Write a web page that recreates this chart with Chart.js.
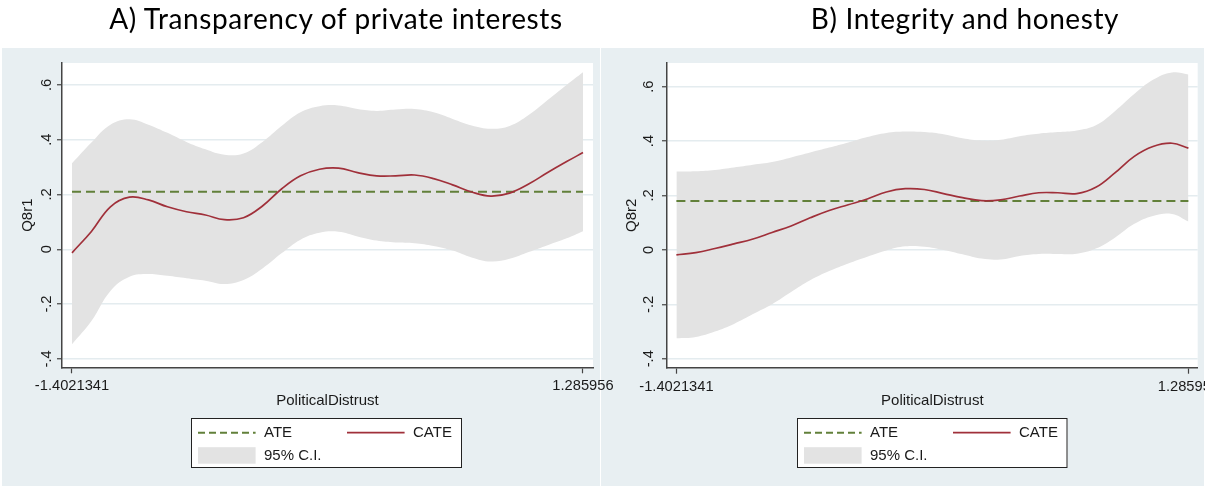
<!DOCTYPE html>
<html><head><meta charset="utf-8">
<script src="https://cdn.jsdelivr.net/npm/chart.js@4.4.1/dist/chart.umd.min.js"></script>
<style>
html,body{margin:0;padding:0;background:#fff;}
#wrap{position:relative;width:1205px;height:486px;overflow:hidden;background:#fff;}
.ttl{position:absolute;top:1px;font-family:Lato,'Open Sans',sans-serif;font-size:28px;line-height:34px;letter-spacing:0.6px;color:#000;white-space:nowrap;text-align:center;width:600px;}
canvas{position:absolute;top:0;}
</style></head><body>
<div id="wrap">
<canvas id="cB" width="605" height="486" style="left:600px;z-index:1"></canvas>
<canvas id="cA" width="620" height="486" style="left:0;z-index:2"></canvas>
<div class="ttl" id="tA" style="left:36px;z-index:3"></div>
<div class="ttl" id="tB" style="left:665px;z-index:3"></div>
</div>
<script>
// ---------- data ----------
const xValues = [-1.4021341,-1.3,-1.2,-1.1,-1.0,-0.9,-0.8,-0.7,-0.6,-0.5,-0.4,-0.3,-0.2,-0.1,0.0,0.1,0.2,0.3,0.4,0.5,0.6,0.7,0.8,0.9,1.0,1.1,1.2,1.285956];
const xTickValues = [-1.4021341, 1.285956];
const xTickLabels = ['-1.4021341', '1.285956'];
const yTickValues = [-0.4, -0.2, 0, 0.2, 0.4, 0.6];
const yTickLabels = ['-.4', '-.2', '0', '.2', '.4', '.6'];
const legendLabels = ['ATE', 'CATE', '95% C.I.'];
const panelTitles = ['A) Transparency of private interests', 'B) Integrity and honesty'];
const yAxisTitles = ['Q8r1', 'Q8r2'];
const xAxisTitle = 'PoliticalDistrust';

const cateA  = [-0.013,0.065,0.155,0.190,0.180,0.155,0.137,0.125,0.108,0.115,0.158,0.220,0.268,0.292,0.296,0.280,0.268,0.268,0.271,0.258,0.235,0.209,0.194,0.205,0.238,0.280,0.320,0.353];
const upperA = [0.314,0.390,0.455,0.475,0.455,0.425,0.392,0.365,0.345,0.350,0.392,0.450,0.500,0.522,0.525,0.512,0.505,0.510,0.512,0.500,0.476,0.452,0.440,0.450,0.490,0.545,0.600,0.646];
const lowerA = [-0.347,-0.262,-0.152,-0.100,-0.090,-0.097,-0.106,-0.115,-0.127,-0.112,-0.070,-0.015,0.035,0.060,0.064,0.047,0.032,0.025,0.022,0.012,-0.005,-0.030,-0.045,-0.035,-0.010,0.015,0.040,0.066];
const ateA = 0.21;

const cateB  = [-0.018,-0.010,0.005,0.022,0.040,0.064,0.088,0.118,0.145,0.166,0.187,0.213,0.225,0.222,0.207,0.192,0.181,0.184,0.198,0.210,0.210,0.207,0.230,0.283,0.343,0.380,0.392,0.374];
const upperB = [0.288,0.289,0.294,0.303,0.313,0.323,0.340,0.358,0.376,0.395,0.415,0.430,0.435,0.433,0.425,0.410,0.402,0.405,0.418,0.427,0.433,0.439,0.458,0.510,0.572,0.625,0.652,0.645];
const lowerB = [-0.325,-0.320,-0.300,-0.272,-0.236,-0.200,-0.155,-0.112,-0.078,-0.050,-0.025,-0.002,0.013,0.012,0.000,-0.016,-0.032,-0.035,-0.022,-0.015,-0.015,-0.014,0.005,0.045,0.095,0.125,0.132,0.104];
const ateB = 0.18;

// ---------- styles ----------
const FONT = "'Liberation Sans', Arial, sans-serif";
const TXT = '#1a1a1a';
const AXIS = '#444444';
const PANEL_BG = '#e8eff2';
const GRID = '#e4ecef';
const CI_FILL = '#e3e3e3';
const CATE_COL = '#a0303a';
const ATE_COL = '#62803a';

Chart.defaults.font.family = FONT;
Chart.defaults.color = TXT;

document.getElementById('tA').textContent = panelTitles[0];
document.getElementById('tB').textContent = panelTitles[1];

const pts = (ys) => xValues.map((x, i) => ({x: x, y: ys[i]}));

function makePanel(id, k, cate, upper, lower, ate, spec) {
  const bgPlugin = {
    id: 'panelBg' + k,
    beforeDraw(chart) {
      const ctx = chart.ctx, r = spec.panelRect, a = chart.chartArea;
      ctx.save();
      ctx.fillStyle = PANEL_BG;
      ctx.fillRect(r.x, r.y, r.w, r.h);
      ctx.fillStyle = '#ffffff';
      ctx.fillRect(a.left, a.top, a.right - a.left, a.bottom - a.top);
      ctx.restore();
    }
  };
  const legendPlugin = {
    id: 'stataLegend' + k,
    afterDraw(chart) {
      const ctx = chart.ctx, b = spec.legendBox;
      ctx.save();
      ctx.fillStyle = '#ffffff';
      ctx.fillRect(b.x, b.y, b.w, b.h);
      ctx.strokeStyle = '#222222';
      ctx.lineWidth = 1;
      ctx.strokeRect(b.x + 0.5, b.y + 0.5, b.w - 1, b.h - 1);
      legendLabels.forEach((lab, i) => {
        const ds = chart.data.datasets.find(d => d.label === lab);
        const col = i % 2, row = Math.floor(i / 2);
        const sx = b.x + [7, 156][col];
        const sy = b.y + [14.7, 37.7][row];
        if (ds.fill) {
          ctx.fillStyle = ds.backgroundColor;
          ctx.fillRect(sx, sy - 8.5, 57.6, 16.5);
        } else {
          ctx.strokeStyle = ds.borderColor;
          ctx.lineWidth = ds.borderWidth;
          ctx.setLineDash(ds.borderDash ? [7, 4] : []);
          ctx.beginPath();
          ctx.moveTo(sx, sy); ctx.lineTo(sx + 57.6, sy);
          ctx.stroke();
          ctx.setLineDash([]);
        }
        ctx.fillStyle = TXT;
        ctx.font = '15px ' + FONT;
        ctx.textBaseline = 'middle';
        ctx.textAlign = 'left';
        ctx.fillText(lab, sx + 66, sy + 0.5);
      });
      ctx.restore();
    }
  };

  return new Chart(document.getElementById(id), {
    type: 'line',
    data: {
      datasets: [
        {label: 'CATE', data: pts(cate), borderColor: CATE_COL, borderWidth: 1.7, pointRadius: 0, tension: 0.4, fill: false},
        {label: 'ATE', data: [{x: xValues[0], y: ate}, {x: xValues[xValues.length - 1], y: ate}],
         borderColor: ATE_COL, borderWidth: 2, borderDash: [9, 5], pointRadius: 0, fill: false},
        {label: '', data: pts(upper), borderWidth: 0, borderColor: 'rgba(0,0,0,0)', pointRadius: 0, tension: 0.4, fill: false},
        {label: '95% C.I.', data: pts(lower), borderWidth: 0, borderColor: 'rgba(0,0,0,0)', backgroundColor: CI_FILL,
         pointRadius: 0, tension: 0.4, fill: '-1'}
      ]
    },
    options: {
      responsive: false,
      animation: false,
      devicePixelRatio: 1,
      layout: {padding: spec.padding},
      plugins: {legend: {display: false}, tooltip: {enabled: false}, title: {display: false}},
      scales: {
        x: {
          type: 'linear', min: spec.xRange[0], max: spec.xRange[1],
          afterBuildTicks: s => { s.ticks = xTickValues.map(v => ({value: v})); },
          afterFit: s => { s.height = spec.xAxisHeight; s.paddingLeft = 0; s.paddingRight = 0; },
          ticks: {autoSkip: false, minRotation: 0, maxRotation: 0, padding: 4, color: TXT,
                  font: {size: 14.7}, callback: (v, i) => xTickLabels[i]},
          grid: {drawOnChartArea: false, drawTicks: true, tickLength: 6, tickColor: AXIS, tickWidth: 1.2},
          border: {display: true, color: AXIS, width: 1.5},
          title: {display: true, text: xAxisTitle, color: TXT, font: {size: 15}, padding: {top: 0, bottom: 76}}
        },
        y: {
          type: 'linear', position: 'left', min: spec.yRange[0], max: spec.yRange[1],
          afterBuildTicks: s => { s.ticks = yTickValues.map(v => ({value: v})); },
          afterFit: s => { s.width = spec.yAxisWidth; s.paddingTop = 0; s.paddingBottom = 0; },
          ticks: {minRotation: 90, maxRotation: 90, crossAlign: 'center', padding: spec.yTickPad, color: TXT,
                  font: {size: 14.7}, callback: (v, i) => yTickLabels[i]},
          grid: {color: GRID, lineWidth: 1.5, drawTicks: true, tickLength: 5, tickColor: AXIS, tickWidth: 1.2},
          border: {display: true, color: AXIS, width: 1.5},
          title: {display: true, text: yAxisTitles[k], color: TXT, font: {size: 15}, padding: {top: spec.yTitlePad, bottom: 0}}
        }
      }
    },
    plugins: [bgPlugin, legendPlugin]
  });
}

makePanel('cA', 0, cateA, upperA, lowerA, ateA, {
  padding: {left: 0, top: 63, right: 27, bottom: 0},
  yAxisWidth: 62, xAxisHeight: 118.7,
  xRange: [-1.4547, 1.3386], yRange: [-0.431, 0.680],
  yTickPad: 1.75, yTitlePad: 18.5,
  panelRect: {x: 2, y: 48, w: 598, h: 438},
  legendBox: {x: 191, y: 418, w: 271, h: 50}
});
makePanel('cB', 1, cateB, upperB, lowerB, ateB, {
  padding: {left: 0, top: 63, right: 7.3, bottom: 0},
  yAxisWidth: 67, xAxisHeight: 118.3,
  xRange: [-1.4515, 1.3348], yRange: [-0.433, 0.687],
  yTickPad: 4.95, yTitlePad: 22.7,
  panelRect: {x: 1, y: 48, w: 603, h: 438},
  legendBox: {x: 197, y: 418, w: 270.5, h: 50}
});
</script>
</body></html>
